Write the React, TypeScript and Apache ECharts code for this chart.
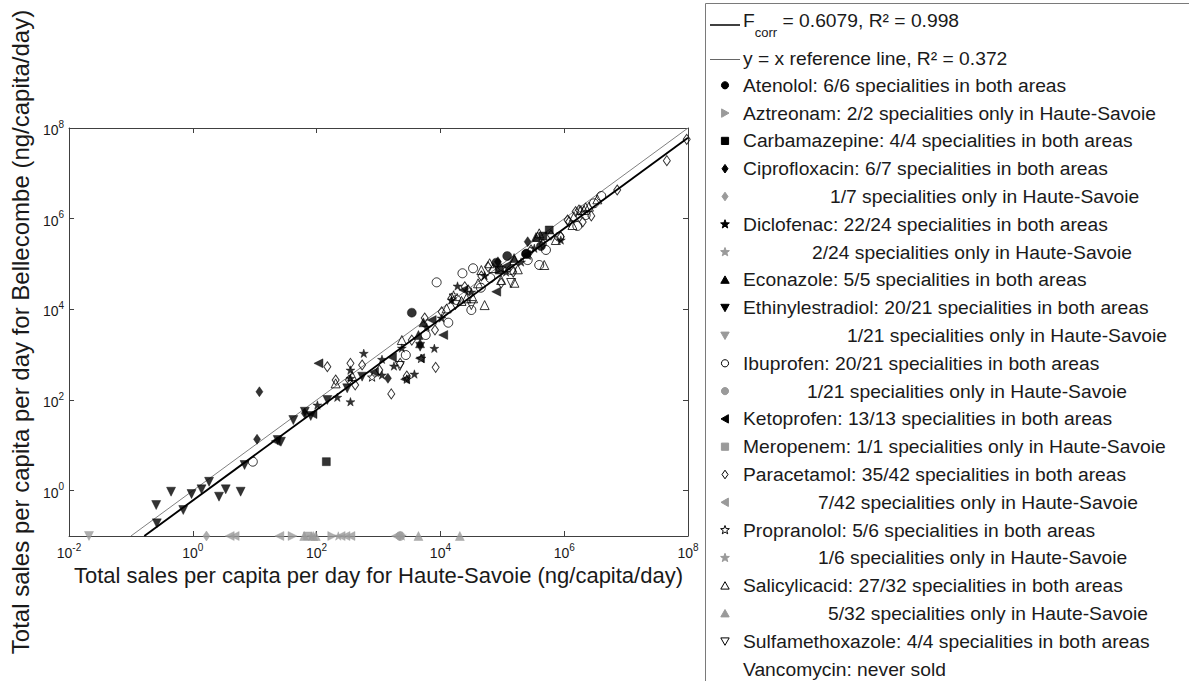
import React, { useEffect, useRef } from "react";
import * as echarts from "echarts";

const FONT = "'Liberation Sans', Arial, Helvetica, sans-serif";

// Axis ranges
const X_MIN = 0.01;
const X_MAX = 1e8;
const Y_MIN = 0.1;
const Y_MAX = 1e8;

// Fitted correction factor and fit quality
const F_CORR = 0.6079;
const R2_CORR = 0.998;
const R2_REF = 0.372;

// ---- Specialities sold in both areas: [Haute-Savoie, Bellecombe] (ng/capita/day)
const atenolol = [[3450, 8430], [120000, 150000], [242000, 166000], [79800, 107000], [421000, 249000], [245000, 170000]];
const carbamazepine = [[143.5, 4.36], [573000, 562000], [453000, 414000], [89000, 73600]];
const ciprofloxacin = [[11.9, 152], [10.9, 13.6], [64.4, 50.8], [1419, 301], [257000, 310000], [84900, 112000]];
const diclofenac = [
  [216, 115], [352, 91.6], [352, 458], [578, 1072], [1138, 356], [7980, 1380], [3800, 374], [18900, 32700],
  [51800, 55200], [329000, 222000], [352, 301], [1138, 789], [6000, 4074], [10450, 6440], [31600, 24100],
  [115000, 66500], [201000, 110700], [881000, 338000], [2380, 1400], [1775, 562], [103, 77.6], [15100, 16100],
];
const econazole = [[5310, 5170], [4416, 2716], [4690, 1780], [155000, 135500], [350000, 394000]];
const ethinylestradiol = [
  [42, 36.1], [4700, 1500], [64.4, 55.1], [80.4, 44.4], [23.5, 13.1], [26.5, 12.0], [6.86, 3.68], [1.83, 1.57],
  [1.38, 1.07], [0.953, 0.843], [0.445, 0.948], [0.256, 0.482], [0.701, 0.374], [0.262, 0.19], [2.65, 0.736],
  [3.4, 1.07], [5.92, 0.948], [149, 100], [312, 181], [543, 327],
];
const ibuprofen = [
  [9.31, 4.36], [8690, 39400], [13400, 5070], [22700, 62400], [33700, 80400], [257000, 122000], [395000, 95000],
  [828000, 400000], [3.02e6, 2.18e6], [3.97e6, 3.16e6], [31600, 9660], [139000, 73600], [1.63e6, 689000],
  [64000, 49100], [18200, 16100], [5780, 2716], [2760, 982], [507000, 204000], [2.22e6, 1.2e6], [45000, 30000],
];
const ketoprofen = [
  [107, 644], [11100, 2716], [79800, 24500], [1648, 875], [4690, 832], [2690, 286], [242000, 158000], [848, 414],
  [7230, 5810], [23500, 26700], [115000, 90400], [21.8, 12.4], [85.7, 49],
];
const paracetamol = [
  [149, 542], [352, 644], [1607, 136], [2240, 644], [8380, 526], [203, 276], [333, 276], [1030, 458], [2860, 338],
  [8170, 3500], [10450, 8850], [24700, 31500], [58700, 87100], [28000, 26700], [15100, 17500], [610000, 436000],
  [1.13e6, 933000], [1.73e6, 1.55e6], [2.74e6, 1.15e6], [7.18e6, 4.29e6], [4.55e7, 1.9e7], [9.53e7, 5.63e7],
  [881000, 400000], [1.53e6, 1.43e6], [1.2e6, 857000], [1.99e6, 843000], [150000, 66500], [45800, 54300],
  [543, 592], [3450, 2100], [5570, 6440], [95900, 38100], [291000, 204000], [453000, 276000], [420, 214],
];
const propranolol = [[4880, 832], [2860, 290], [787, 321], [16300, 20700], [95900, 81500]];
const salicylicacid = [
  [203, 233], [21900, 15300], [51800, 12400], [62400, 104000], [157000, 38600], [157000, 122000], [372000, 400000],
  [476000, 95000], [733000, 338000], [1.44e6, 1.11e6], [1.36e6, 724000], [2.08e6, 1.55e6], [2.51e6, 1.84e6],
  [3.43e6, 2.67e6], [45800, 73600], [178000, 76400], [95900, 44400], [40600, 37500], [33700, 17500], [26300, 17500],
  [12600, 10500], [395000, 475000], [1.85e6, 1.55e6], [2.22e6, 1.78e6], [2380, 2100], [376, 338], [71400, 81500],
];
const sulfamethoxazole = [[2210, 562], [17500, 12400], [139000, 38100], [31600, 12400]];

// ---- Specialities sold only in Haute-Savoie (Bellecombe = 0, drawn on the axis floor)
const aztreonamHS = [40.9, 179];
const ciprofloxacinHS = [1.66];
const diclofenacHS = [82.5, 224];
const ethinylestradiolHS = [0.021];
const ibuprofenHS = [2240];
const meropenemHS = [71];
const paracetamolHS = [3.94, 4.74, 25, 244, 293, 352, 1910];
const propranololHS = [2380];
const salicylicacidHS = [63, 88, 96.8, 4420, 20600];

// ---- Legend texts
const legendLineLabels = [
  `{b|F}{s|corr}{b| = ${F_CORR}, R² = ${R2_CORR}}`,
  `y = x reference line, R² = ${R2_REF}`,
];
const legendLabels = [
  "Atenolol: 6/6 specialities in both areas",
  "Aztreonam: 2/2 specialities only in Haute-Savoie",
  "Carbamazepine: 4/4 specialities in both areas",
  "Ciprofloxacin: 6/7 specialities in both areas",
  "1/7 specialities only in Haute-Savoie",
  "Diclofenac: 22/24 specialities in both areas",
  "2/24 specialities only in Haute-Savoie",
  "Econazole: 5/5 specialities in both areas",
  "Ethinylestradiol: 20/21 specialities in both areas",
  "1/21 specialities only in Haute-Savoie",
  "Ibuprofen: 20/21 specialities in both areas",
  "1/21 specialities only in Haute-Savoie",
  "Ketoprofen: 13/13 specialities in both areas",
  "Meropenem: 1/1 specialities only in Haute-Savoie",
  "Paracetamol: 35/42 specialities in both areas",
  "7/42 specialities only in Haute-Savoie",
  "Propranolol: 5/6 specialities in both areas",
  "1/6 specialities only in Haute-Savoie",
  "Salicylicacid: 27/32 specialities in both areas",
  "5/32 specialities only in Haute-Savoie",
  "Sulfamethoxazole: 4/4 specialities in both areas",
  "Vancomycin: never sold",
];

type Kind = "circle" | "square" | "diamond" | "up" | "down" | "left" | "right" | "star";
type Look = "black" | "gray" | "open";

const legendMarkers: ([Kind, Look] | null)[] = [
  ["circle", "black"], ["right", "gray"], ["square", "black"], ["diamond", "black"], ["diamond", "gray"],
  ["star", "black"], ["star", "gray"], ["up", "black"], ["down", "black"], ["down", "gray"],
  ["circle", "open"], ["circle", "gray"], ["left", "black"], ["square", "gray"], ["diamond", "open"],
  ["left", "gray"], ["star", "open"], ["star", "gray"], ["up", "open"], ["up", "gray"], ["down", "open"], null,
];
// Text start (px) of each legend row (the "only in Haute-Savoie" rows are indented)
const legendTextX = [743, 743, 743, 743, 830, 743, 812, 743, 743, 847, 743, 807, 743, 743, 743, 818, 743, 818, 743, 828, 743, 743];

const GRAY = "#9a9a9a";
const INK = "#1a1a1a";
const LEGEND_FS = 19.25;
const STAR_PATH =
  "path://M50,0L61.8,35.1L98.1,35.1L68.8,56.7L79.4,91L50,70L20.6,91L31.2,56.7L1.9,35.1L38.2,35.1Z";

const SYMBOLS: Record<Kind, { symbol: string; rotate: number; size: number | number[] }> = {
  circle: { symbol: "circle", rotate: 0, size: 9 },
  square: { symbol: "rect", rotate: 0, size: 8 },
  diamond: { symbol: "diamond", rotate: 0, size: [7, 10] },
  up: { symbol: "triangle", rotate: 0, size: 9 },
  down: { symbol: "triangle", rotate: 180, size: 9 },
  left: { symbol: "triangle", rotate: 90, size: 9 },
  right: { symbol: "triangle", rotate: -90, size: 9 },
  star: { symbol: STAR_PATH, rotate: 0, size: 9 },
};

const onFloor = (xs: number[]) => xs.map((x) => [x, Y_MIN]);

const scatterDefs: { name: string; data: number[][]; kind: Kind; look: Look }[] = [
  { name: "Atenolol", data: atenolol, kind: "circle", look: "black" },
  { name: "Aztreonam (Haute-Savoie only)", data: onFloor(aztreonamHS), kind: "right", look: "gray" },
  { name: "Carbamazepine", data: carbamazepine, kind: "square", look: "black" },
  { name: "Ciprofloxacin", data: ciprofloxacin, kind: "diamond", look: "black" },
  { name: "Ciprofloxacin (Haute-Savoie only)", data: onFloor(ciprofloxacinHS), kind: "diamond", look: "gray" },
  { name: "Diclofenac", data: diclofenac, kind: "star", look: "black" },
  { name: "Diclofenac (Haute-Savoie only)", data: onFloor(diclofenacHS), kind: "star", look: "gray" },
  { name: "Econazole", data: econazole, kind: "up", look: "black" },
  { name: "Ethinylestradiol", data: ethinylestradiol, kind: "down", look: "black" },
  { name: "Ethinylestradiol (Haute-Savoie only)", data: onFloor(ethinylestradiolHS), kind: "down", look: "gray" },
  { name: "Ibuprofen", data: ibuprofen, kind: "circle", look: "open" },
  { name: "Ibuprofen (Haute-Savoie only)", data: onFloor(ibuprofenHS), kind: "circle", look: "gray" },
  { name: "Ketoprofen", data: ketoprofen, kind: "left", look: "black" },
  { name: "Meropenem (Haute-Savoie only)", data: onFloor(meropenemHS), kind: "square", look: "gray" },
  { name: "Paracetamol", data: paracetamol, kind: "diamond", look: "open" },
  { name: "Paracetamol (Haute-Savoie only)", data: onFloor(paracetamolHS), kind: "left", look: "gray" },
  { name: "Propranolol", data: propranolol, kind: "star", look: "open" },
  { name: "Propranolol (Haute-Savoie only)", data: onFloor(propranololHS), kind: "star", look: "gray" },
  { name: "Salicylicacid", data: salicylicacid, kind: "up", look: "open" },
  { name: "Salicylicacid (Haute-Savoie only)", data: onFloor(salicylicacidHS), kind: "up", look: "gray" },
  { name: "Sulfamethoxazole", data: sulfamethoxazole, kind: "down", look: "open" },
];

const tickLabel = (v: number) => {
  const e = Math.round(Math.log10(v));
  return `{b|10}{s|${e}}`;
};
const tickRich = {
  b: { fontSize: 14, lineHeight: 18, verticalAlign: "bottom", color: INK, fontFamily: FONT },
  s: { fontSize: 10, lineHeight: 10, verticalAlign: "top", color: INK, fontFamily: FONT },
};
const axisLineStyle = { color: "#404040", width: 1 };

function legendMarker(kind: Kind, look: Look, cx: number, cy: number): any {
  const color = look === "gray" ? GRAY : "#000";
  const style = { fill: look === "open" ? "#fff" : color, stroke: color, lineWidth: 1 };
  const s = 3.6;
  switch (kind) {
    case "circle":
      return { type: "circle", shape: { cx, cy, r: s }, style };
    case "square":
      return { type: "rect", shape: { x: cx - s, y: cy - s, width: 2 * s, height: 2 * s }, style };
    case "diamond":
      return { type: "polygon", shape: { points: [[cx, cy - 4.3], [cx + 3, cy], [cx, cy + 4.3], [cx - 3, cy]] }, style };
    case "up":
      return { type: "polygon", shape: { points: [[cx, cy - 4], [cx + 4.2, cy + 3.4], [cx - 4.2, cy + 3.4]] }, style };
    case "down":
      return { type: "polygon", shape: { points: [[cx - 4.2, cy - 3.4], [cx + 4.2, cy - 3.4], [cx, cy + 4]] }, style };
    case "left":
      return { type: "polygon", shape: { points: [[cx - 4, cy], [cx + 3.4, cy - 4.2], [cx + 3.4, cy + 4.2]] }, style };
    case "right":
      return { type: "polygon", shape: { points: [[cx + 4, cy], [cx - 3.4, cy - 4.2], [cx - 3.4, cy + 4.2]] }, style };
    case "star": {
      const pts: number[][] = [];
      for (let k = 0; k < 10; k++) {
        const a = -Math.PI / 2 + (k * Math.PI) / 5;
        const r = k % 2 ? 1.9 : 4.6;
        pts.push([cx + r * Math.cos(a), cy + r * Math.sin(a)]);
      }
      return { type: "polygon", shape: { points: pts }, style };
    }
  }
}

export default function App() {
  const ref = useRef<HTMLDivElement>(null);

  useEffect(() => {
    const chart = echarts.init(ref.current!, null, { renderer: "svg" });

    const series: any[] = [
      {
        name: "y = x reference line",
        type: "line",
        data: [[Y_MIN, Y_MIN], [X_MAX, X_MAX]],
        symbol: "none",
        lineStyle: { color: "#808080", width: 1 },
        z: 1,
        silent: true,
      },
      {
        name: "Fcorr",
        type: "line",
        data: [[Y_MIN / F_CORR, Y_MIN], [X_MAX, X_MAX * F_CORR]],
        symbol: "none",
        lineStyle: { color: "#000", width: 1.9 },
        z: 1,
        silent: true,
      },
      ...scatterDefs.map((d) => {
        const sym = SYMBOLS[d.kind];
        const color = d.look === "gray" ? GRAY : "#000";
        return {
          name: d.name,
          type: "scatter",
          data: d.data,
          symbol: sym.symbol,
          symbolRotate: sym.rotate,
          symbolSize: sym.size,
          symbolKeepAspect: true,
          clip: false,
          z: 3,
          itemStyle:
            d.look === "open"
              ? { color: "rgba(255,255,255,0)", borderColor: "#000", borderWidth: 1 }
              : { color, borderColor: color, borderWidth: 0.5 },
        };
      }),
    ];

    const graphic: any[] = [
      {
        type: "rect",
        shape: { x: 705.5, y: 3.5, width: 600, height: 800 },
        style: { fill: "#fff", stroke: "#7a7a7a", lineWidth: 1 },
        z: 0,
      },
      { type: "line", shape: { x1: 710, y1: 25, x2: 740, y2: 25 }, style: { stroke: "#000", lineWidth: 1.5 } },
      {
        type: "text",
        x: 743,
        y: 11,
        style: {
          text: legendLineLabels[0],
          fill: INK,
          fontFamily: FONT,
          fontSize: LEGEND_FS,
          verticalAlign: "top",
          rich: {
            b: { fontSize: LEGEND_FS, fontFamily: FONT, verticalAlign: "top", fill: INK },
            s: { fontSize: 13, fontFamily: FONT, lineHeight: 28, verticalAlign: "bottom", fill: INK },
          },
        },
      },
      { type: "line", shape: { x1: 710, y1: 59.5, x2: 740, y2: 59.5 }, style: { stroke: "#666", lineWidth: 1 } },
      {
        type: "text",
        x: 743,
        y: 58,
        style: { text: legendLineLabels[1], fill: INK, fontFamily: FONT, fontSize: LEGEND_FS, verticalAlign: "middle" },
      },
    ];
    legendLabels.forEach((label, i) => {
      const cy = 85.3 + i * 27.8;
      const m = legendMarkers[i];
      if (m) graphic.push(legendMarker(m[0], m[1], 725, cy));
      graphic.push({
        type: "text",
        x: legendTextX[i],
        y: cy,
        style: { text: label, fill: INK, fontFamily: FONT, fontSize: LEGEND_FS, verticalAlign: "middle" },
      });
    });

    const option: any = {
      animation: false,
      backgroundColor: "#fff",
      textStyle: { fontFamily: FONT },
      grid: { left: 65, top: 128, width: 623, height: 408, containLabel: false },
      xAxis: [
        {
          type: "log",
          logBase: 100,
          min: X_MIN,
          max: X_MAX,
          position: "bottom",
          name: "Total sales per capita per day for Haute-Savoie (ng/capita/day)",
          nameLocation: "middle",
          nameGap: 25,
          nameTextStyle: { fontSize: 22, color: INK, fontFamily: FONT },
          axisLine: { show: true, onZero: false, lineStyle: axisLineStyle },
          axisTick: { show: true, inside: true, length: 5, lineStyle: axisLineStyle },
          axisLabel: { formatter: tickLabel, rich: tickRich, margin: 6 },
          splitLine: { show: false },
          minorTick: { show: false },
        },
        {
          type: "log",
          logBase: 100,
          min: X_MIN,
          max: X_MAX,
          position: "top",
          axisLine: { show: true, onZero: false, lineStyle: axisLineStyle },
          axisTick: { show: true, inside: true, length: 5, lineStyle: axisLineStyle },
          axisLabel: { show: false },
          splitLine: { show: false },
        },
      ],
      yAxis: [
        {
          type: "log",
          logBase: 100,
          min: Y_MIN,
          max: Y_MAX,
          position: "left",
          name: "Total sales per capita per day for Bellecombe (ng/capita/day)",
          nameLocation: "middle",
          nameGap: 32,
          nameTextStyle: { fontSize: 24, color: INK, fontFamily: FONT },
          axisLine: { show: true, onZero: false, lineStyle: axisLineStyle },
          axisTick: { show: true, inside: true, length: 5, lineStyle: axisLineStyle },
          axisLabel: { formatter: tickLabel, rich: tickRich, margin: 5, showMinLabel: false },
          splitLine: { show: false },
        },
        {
          type: "log",
          logBase: 100,
          min: Y_MIN,
          max: Y_MAX,
          position: "right",
          axisLine: { show: true, onZero: false, lineStyle: axisLineStyle },
          axisTick: { show: true, inside: true, length: 5, lineStyle: axisLineStyle },
          axisLabel: { show: false },
          splitLine: { show: false },
        },
      ],
      series,
      graphic,
    };

    chart.setOption(option);
    return () => chart.dispose();
  }, []);

  return (
    <div
      ref={ref}
      style={{ position: "fixed", left: 0, top: 0, width: 1189, height: 681, background: "#fff" }}
    />
  );
}
